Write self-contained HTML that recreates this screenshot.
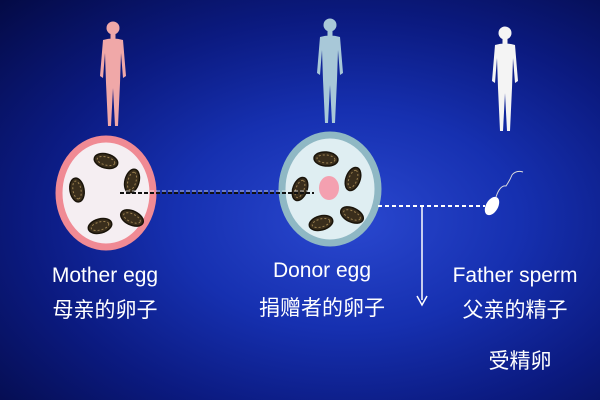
<!DOCTYPE html>
<html><head><meta charset="utf-8"><style>
body{margin:0;width:600px;height:400px;overflow:hidden;background:radial-gradient(ellipse at 58% 55%,#2a48d0 0%,#1630b0 35%,#0b1a80 65%,#040a45 100%);font-family:"Liberation Sans","Noto Sans CJK SC",sans-serif;}
.t{position:absolute;color:#fff;font-size:21px;text-align:center;white-space:nowrap;}
</style></head><body>
<svg width="600" height="400" style="position:absolute;left:0;top:0">
<defs>
<g id="fig">
<circle cx="0" cy="-100" r="6.5"/>
<rect x="-2.5" y="-94" width="5" height="6"/>
<path d="M-10,-88 Q0,-91 10,-88 L13,-52 L10,-50 L8,-75 L7,-45 L5,-2 L2,-2 L0,-40 L-2,-2 L-5,-2 L-7,-45 L-8,-75 L-10,-50 L-13,-52 Z"/>
</g>
<g id="mito"><ellipse rx="12" ry="7" fill="#3a2e1c" stroke="#1a140a" stroke-width="1.5"/><ellipse rx="9" ry="4" fill="none" stroke="#9a8050" stroke-dasharray="2 2"/></g>
</defs>
<use href="#fig" x="113" y="128" fill="#f0a8a8"/>
<use href="#fig" x="330" y="125" fill="#a8c8d8"/>
<use href="#fig" x="505" y="133" fill="#f4f4f4"/>
<ellipse cx="106" cy="193" rx="47" ry="54" fill="#f5eef2" stroke="#f08a94" stroke-width="7"/>
<use href="#mito" x="106" y="161" transform="rotate(15 106 161)"/>
<use href="#mito" x="77" y="190" transform="rotate(80 77 190)"/>
<use href="#mito" x="132" y="181" transform="rotate(-75 132 181)"/>
<use href="#mito" x="100" y="226" transform="rotate(-15 100 226)"/>
<use href="#mito" x="132" y="218" transform="rotate(25 132 218)"/>
<ellipse cx="330" cy="189" rx="48" ry="54" fill="#dfeef2" stroke="#8fb8c4" stroke-width="7"/>
<ellipse cx="329" cy="188" rx="10" ry="12" fill="#f4a0b0"/>
<use href="#mito" x="326" y="159" transform="rotate(5 326 159)"/>
<use href="#mito" x="353" y="179" transform="rotate(-70 353 179)"/>
<use href="#mito" x="300" y="189" transform="rotate(-70 300 189)"/>
<use href="#mito" x="321" y="223" transform="rotate(-15 321 223)"/>
<use href="#mito" x="352" y="215" transform="rotate(25 352 215)"/>
<line x1="120" y1="193" x2="314" y2="193" stroke="#111" stroke-width="2" stroke-dasharray="4 2"/>
<line x1="120" y1="191" x2="314" y2="191" stroke="#eee" stroke-width="0.8" stroke-dasharray="4 2"/>
<line x1="378" y1="206" x2="485" y2="206" stroke="#fff" stroke-width="2" stroke-dasharray="4 3"/>
<line x1="422" y1="206" x2="422" y2="300" stroke="#fff" stroke-width="1.5"/>
<path d="M417,296 L422,305 L427,296" fill="none" stroke="#fff" stroke-width="1.5"/>
<ellipse cx="492" cy="206" rx="6" ry="10" fill="#fff" transform="rotate(30 492 206)"/>
<path d="M496,197 Q500,185 506,186 Q510,180 512,175 Q516,170 523,172" fill="none" stroke="#ddd" stroke-width="1"/>
</svg>
<div class="t" style="left:35px;top:264px;width:140px">Mother egg</div>
<div class="t" style="left:35px;top:294px;width:140px">母亲的卵子</div>
<div class="t" style="left:252px;top:259px;width:140px">Donor egg</div>
<div class="t" style="left:237px;top:292px;width:170px">捐赠者的卵子</div>
<div class="t" style="left:435px;top:264px;width:160px">Father sperm</div>
<div class="t" style="left:435px;top:294px;width:160px">父亲的精子</div>
<div class="t" style="left:470px;top:345px;width:100px">受精卵</div>
</body></html>
